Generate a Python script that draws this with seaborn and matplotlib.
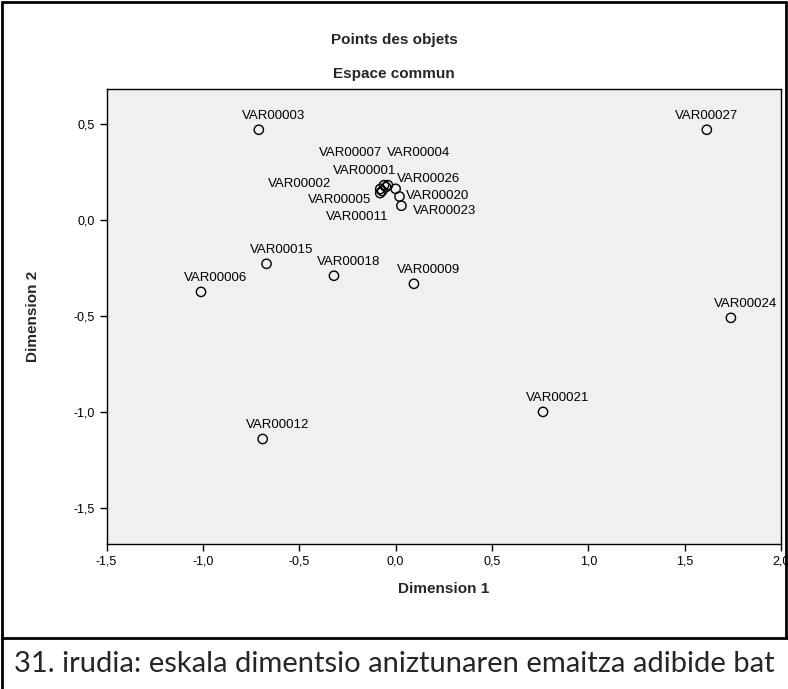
import numpy as np
import matplotlib.pyplot as plt
import seaborn as sns
from matplotlib.ticker import FuncFormatter, MultipleLocator
from matplotlib.lines import Line2D

# coordonnées des objets
noms = ['VAR00003', 'VAR00027', 'VAR00007', 'VAR00004', 'VAR00001', 'VAR00026',
        'VAR00002', 'VAR00020', 'VAR00005', 'VAR00023', 'VAR00011', 'VAR00015',
        'VAR00006', 'VAR00018', 'VAR00009', 'VAR00024', 'VAR00021', 'VAR00012']
dim1 = [-0.71, 1.615, -0.06, -0.04, -0.05, 0.0, -0.08, 0.02, -0.08, 0.03, -0.07,
        -0.67, -1.01, -0.32, 0.095, 1.74, 0.765, -0.69]
dim2 = [0.468, 0.468, 0.18, 0.18, 0.17, 0.161, 0.16, 0.121, 0.139, 0.073, 0.15,
        -0.229, -0.375, -0.291, -0.333, -0.51, -0.999, -1.14]

# décalages des étiquettes (pixels)
decalage = {'VAR00027': (0, 14), 'VAR00007': (-34, 32), 'VAR00004': (31, 32),
            'VAR00001': (-21, 16), 'VAR00026': (33, 10), 'VAR00002': (-81, 5),
            'VAR00020': (38, 1), 'VAR00005': (-41, -7), 'VAR00023': (43, -5),
            'VAR00011': (-25, -26)}

sns.set_style('white')
plt.rcParams['font.family'] = ['Liberation Sans', 'DejaVu Sans']

fig = plt.figure(figsize=(7.88, 6.89), dpi=100)
ax = fig.add_axes([106.6 / 788, 1 - 544 / 689, (781 - 106.6) / 788, (544 - 89) / 689])
ax.set_facecolor('#f0f0f0')

sns.scatterplot(x=dim1, y=dim2, ax=ax, marker='o', s=45, facecolor='none',
                edgecolor='black', linewidth=1, zorder=3)

for nom, x, y in zip(noms, dim1, dim2):
    dx, dy = decalage.get(nom, (15, 14))
    ax.annotate(nom, (x, y), xytext=(dx, dy), textcoords='offset pixels',
                ha='center', va='center', fontsize=9.5, color='black')

ax.set_xlim(-1.5, 2.0)
ax.set_ylim(-1.686, 0.68)
ax.xaxis.set_major_locator(MultipleLocator(0.5))
ax.yaxis.set_major_locator(MultipleLocator(0.5))
virgule = FuncFormatter(lambda v, p: f'{v:.1f}'.replace('.', ','))
ax.xaxis.set_major_formatter(virgule)
ax.yaxis.set_major_formatter(virgule)
ax.tick_params(axis='both', direction='out', length=5, width=1, colors='black',
               labelsize=9, left=True, bottom=True)
for cote in ax.spines.values():
    cote.set_color('black')
    cote.set_linewidth(1)

ax.set_xlabel('Dimension 1', fontsize=11, fontweight='bold', labelpad=10)
ax.set_ylabel('Dimension 2', fontsize=11, fontweight='bold', labelpad=24)

fig.text(0.5, 1 - 40 / 689, 'Points des objets', ha='center', va='center',
         fontsize=11, fontweight='bold')
fig.text(0.5, 1 - 74 / 689, 'Espace commun', ha='center', va='center',
         fontsize=11, fontweight='bold')

# cadre et légende de la figure
ep = 2
fig.add_artist(Line2D([2 / 788, 2 / 788], [0, 1 - 2 / 689], color='black', lw=ep))
fig.add_artist(Line2D([2 / 788, 786 / 788], [1 - 2 / 689, 1 - 2 / 689], color='black', lw=ep))
fig.add_artist(Line2D([786 / 788, 786 / 788], [1 - 638 / 689, 1 - 2 / 689], color='black', lw=ep))
fig.add_artist(Line2D([2 / 788, 788 / 788], [1 - 638 / 689, 1 - 638 / 689], color='black', lw=ep))
fig.text(394 / 788, 1 - 664 / 689, '31. irudia: eskala dimentsio aniztunaren emaitza adibide bat',
         ha='center', va='center', fontsize=21, family=['Lato', 'DejaVu Sans'])

fig.savefig('out.png', dpi=100, facecolor='white')
